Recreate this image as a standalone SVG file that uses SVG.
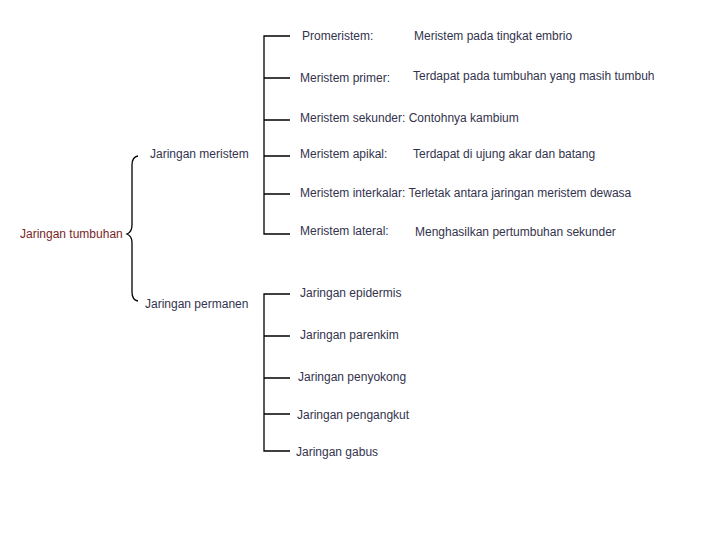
<svg xmlns="http://www.w3.org/2000/svg" width="720" height="540" viewBox="0 0 720 540">
<style>
text{font-family:"Liberation Sans",Arial,sans-serif;font-size:12px;fill:#33334d}
.red{fill:#7a1f1f}
.ln{stroke:#000;stroke-width:1.3;fill:none}
</style>
<rect width="720" height="540" fill="#fff"/>
<g id="connectors">
<path class="ln" d="M290 36H264V234H290M264 78H290M264 120H290M264 156H290M264 194H290"/>
<path class="ln" d="M290 294H264V451H290M264 336H290M264 378H290M264 414H290"/>
<path class="ln" d="M138 156Q132 157 132 165V225Q132 232 127 234Q132 236 132 243V292Q132 300 138 301"/>
</g>
<g id="root"><text class="red" x="20" y="238">Jaringan tumbuhan</text></g>
<g id="meristem"><text x="150" y="158">Jaringan meristem</text></g>
<g id="permanen"><text x="145" y="308">Jaringan permanen</text></g>
<g id="m1"><text x="302" y="40">Promeristem:</text><text x="414" y="40">Meristem pada tingkat embrio</text></g>
<g id="m2"><text x="300" y="82">Meristem primer:</text><text x="413" y="80">Terdapat pada tumbuhan yang masih tumbuh</text></g>
<g id="m3"><text x="300" y="122">Meristem sekunder:  Contohnya kambium</text></g>
<g id="m4"><text x="300" y="158">Meristem apikal:</text><text x="413" y="158">Terdapat di ujung akar dan batang</text></g>
<g id="m5"><text x="300" y="197">Meristem interkalar:  Terletak antara jaringan meristem dewasa</text></g>
<g id="m6"><text x="300" y="235">Meristem lateral:</text><text x="415" y="236">Menghasilkan pertumbuhan sekunder</text></g>
<g id="p1"><text x="300" y="297">Jaringan epidermis</text></g>
<g id="p2"><text x="300" y="339">Jaringan parenkim</text></g>
<g id="p3"><text x="298" y="381">Jaringan penyokong</text></g>
<g id="p4"><text x="297" y="419">Jaringan pengangkut</text></g>
<g id="p5"><text x="296" y="456">Jaringan gabus</text></g>
</svg>
